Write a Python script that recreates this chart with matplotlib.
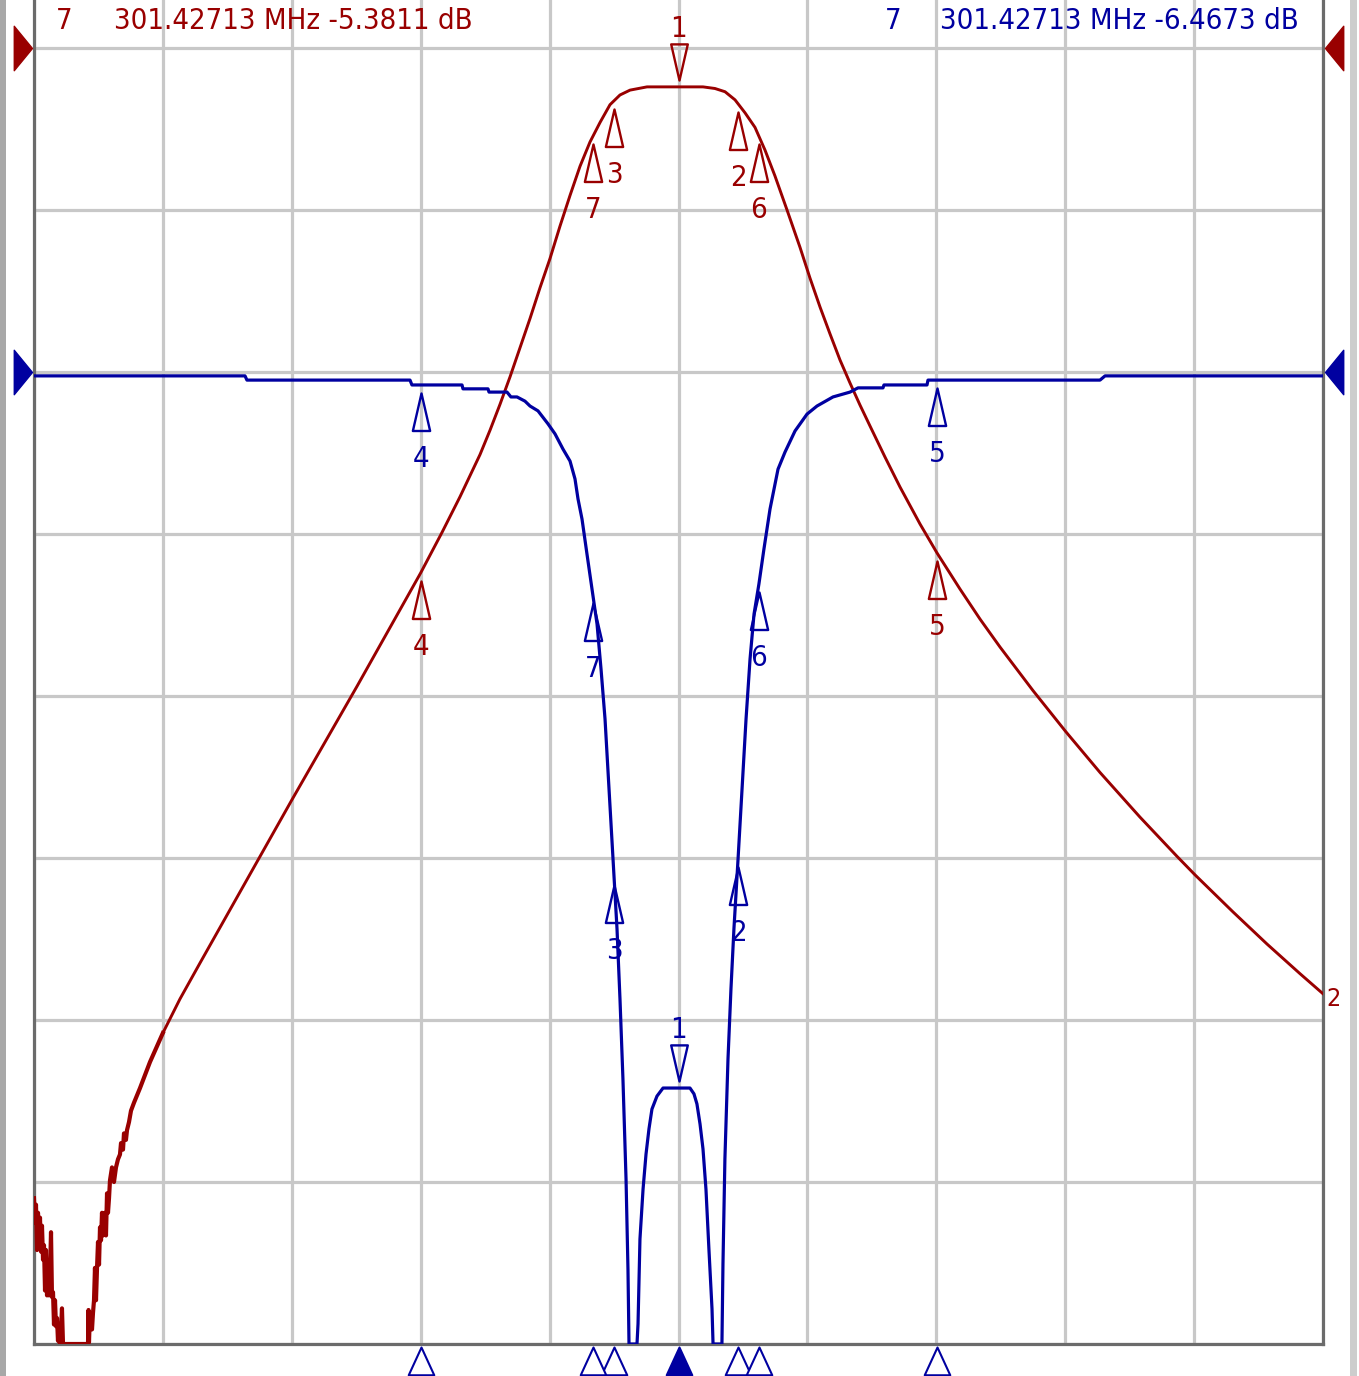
import numpy as np
import matplotlib
matplotlib.use("Agg")
import matplotlib.pyplot as plt
from matplotlib.path import Path
from matplotlib import transforms
from matplotlib import font_manager as fm
from matplotlib.patches import Rectangle

# Trace 1 (red): frequency in MHz, level in dB (ref 0 dB at top, 10 dB/div)
red_f = [300.5600, 300.5616, 300.5631, 300.5647, 300.5662, 300.5678, 300.5693, 300.5709,
         300.5724, 300.5740, 300.5755, 300.5771, 300.5786, 300.5802, 300.5817, 300.5833,
         300.5848, 300.5864, 300.5879, 300.5895, 300.5910, 300.5926, 300.5941, 300.5957,
         300.5972, 300.5988, 300.6003, 300.6019, 300.6034, 300.6050,
         300.6438, 300.6446, 300.6453, 300.6469, 300.6500, 300.6515, 300.6531, 300.6546,
         300.6562, 300.6578, 300.6593, 300.6609, 300.6624, 300.6640, 300.6655, 300.6671,
         300.6686, 300.6702, 300.6717, 300.6733, 300.6748, 300.6764, 300.6779, 300.6810,
         300.6841, 300.6872, 300.6903, 300.6934, 300.6950, 300.6981, 300.6996, 300.7027,
         300.7043, 300.7074, 300.7105, 300.7152, 300.7245, 300.7400,
         300.7600, 300.7865, 300.8176, 300.8595, 300.9603, 301.0612,
         301.1600, 301.1931, 301.2210, 301.2365, 301.2520, 301.2675, 301.2830,
         301.2986, 301.3141, 301.3296, 301.3451, 301.3606, 301.3761, 301.3917, 301.4072,
         301.4227, 301.4382, 301.4537, 301.4692, 301.4848, 301.5111, 301.5600, 301.5980,
         301.6166, 301.6322, 301.6477, 301.6632, 301.6787, 301.6942, 301.7097, 301.7284,
         301.7485, 301.7640, 301.7796, 301.7951, 301.8106, 301.8261, 301.8416, 301.8571,
         301.8804, 301.9037, 301.9347, 301.9611, 301.9968, 302.0278, 302.0589, 302.1101,
         302.1613, 302.2140, 302.2761, 302.3335, 302.3614, 302.4204, 302.4731, 302.5243,
         302.5600]
red_db = [-71.0, -72.5, -71.4, -74.2, -71.9, -73.6, -72.2, -74.3,
          -72.7, -74.8, -73.9, -76.7, -74.2, -77.0, -74.9, -77.0,
          -75.6, -73.1, -77.1, -76.8, -78.8, -77.3, -78.9, -78.4,
          -79.8, -79.0, -80.0, -79.1, -77.8, -80.0,
          -80.0, -77.9, -79.9, -78.1, -79.1, -78.1, -77.3, -75.3,
          -77.3, -75.3, -73.7, -75.1, -72.8, -73.6, -71.9, -73.3,
          -72.8, -71.9, -73.3, -70.7, -71.9, -71.0, -69.9, -69.1,
          -70.0, -69.1, -68.6, -68.3, -67.6, -68.0, -67.0, -67.4,
          -66.8, -66.3, -65.6, -65.1, -64.2, -62.59,
          -60.80, -58.70, -56.48, -53.52, -46.40, -39.40,
          -32.40, -29.90, -27.70, -26.40, -25.10, -23.60, -22.00,
          -20.30, -18.50, -16.70, -14.80, -13.00, -11.00, -9.10, -7.30,
          -5.80, -4.60, -3.50, -2.90, -2.60, -2.40, -2.40, -2.40,
          -2.50, -2.70, -3.20, -4.00, -4.90, -6.30, -7.90, -10.00,
          -12.30, -14.20, -15.99, -17.65, -19.26, -20.68, -22.04, -23.33,
          -25.25, -27.10, -29.38, -31.17, -33.40, -35.25, -36.98, -39.67,
          -42.22, -44.72, -47.48, -49.90, -51.04, -53.33, -55.31, -57.14,
          -58.38]

# Trace 2 (blue): frequency in MHz, level in dB (ref 0 dB at 6th division, 5 dB/div)
blue_f = [300.5600, 300.8874, 300.8904, 301.1434, 301.1464, 301.2241, 301.2256, 301.2644,
          301.2660, 301.2939, 301.3000, 301.3094, 301.3218, 301.3296, 301.3420, 301.3575,
          301.3684, 301.3808, 301.3917, 301.3994, 301.4041, 301.4103, 301.4180, 301.4258,
          301.4336, 301.4398, 301.4460, 301.4522, 301.4584, 301.4646, 301.4692, 301.4738,
          301.4786, 301.4816, 301.4832,
          301.4956, 301.4972, 301.5002, 301.5050, 301.5096, 301.5142, 301.5188, 301.5266,
          301.5360, 301.5778, 301.5840, 301.5886, 301.5934, 301.5980, 301.6026, 301.6072,
          301.6120, 301.6136,
          301.6274, 301.6290, 301.6320, 301.6368, 301.6414, 301.6460, 301.6524, 301.6586,
          301.6648, 301.6710, 301.6772, 301.6848, 301.6926, 301.7020, 301.7144, 301.7253,
          301.7408, 301.7594, 301.7749, 301.7997, 301.8261, 301.8385, 301.8773, 301.8788,
          301.9456, 301.9471, 302.2140, 302.2218, 302.5600]
blue_db = [-0.12, -0.12, -0.25, -0.25, -0.40, -0.40, -0.52, -0.52,
           -0.62, -0.62, -0.77, -0.77, -0.90, -1.05, -1.20, -1.60,
           -1.91, -2.38, -2.75, -3.30, -3.92, -4.54, -5.62, -6.70,
           -7.78, -9.17, -10.71, -12.87, -15.03, -17.19, -19.35, -21.82,
           -24.91, -27.69, -30.0,
           -30.0, -29.38, -26.76, -25.22, -24.14, -23.36, -22.75, -22.35,
           -22.10, -22.10, -22.28, -22.59, -23.21, -23.98, -25.22, -27.07,
           -28.92, -30.0,
           -30.0, -27.53, -24.29, -21.20, -19.04, -17.19, -15.03, -12.87,
           -10.71, -8.86, -7.47, -6.54, -5.46, -4.23, -3.00, -2.47,
           -1.82, -1.30, -1.05, -0.77, -0.62, -0.49, -0.49, -0.40,
           -0.40, -0.25, -0.25, -0.12, -0.12]

marker_ids = ["1", "2", "3", "4", "5", "6", "7"]
marker_f = [301.5600, 301.6524, 301.4600, 301.1600, 301.9610, 301.6848, 301.42713]

header_left = ("7", "301.42713 MHz -5.3811 dB")
header_right = ("7", "301.42713 MHz -6.4673 dB")

# ---------------- style ----------------
RED = "#990000"
BLUE = "#0000a0"
GRID = "#c8c8c8"
FRAME = "#6b6b6b"
W, H, DPI = 1359, 1376, 100
PT = 72.0 / DPI  # points per pixel

ttf = fm.fontManager.ttflist
names = {f.name for f in ttf}
STRETCH = "normal"
if "Liberation Sans Narrow" in names:
    FAM, HS, LS = "Liberation Sans Narrow", 28, 27
elif any(f.name == "DejaVu Sans" and str(f.stretch) == "condensed" for f in ttf):
    FAM, HS, LS, STRETCH = "DejaVu Sans", 21, 21, "condensed"
else:
    FAM, HS, LS = "DejaVu Sans Mono", 18, 19
FONT = [FAM, "DejaVu Sans"]

fig = plt.figure(figsize=(W / DPI, H / DPI), dpi=DPI)
fig.patch.set_facecolor("white")
ax = fig.add_axes([34 / W, 32 / H, (1323 - 34) / W, 1344 / H])
ax2 = ax.twinx()

f0, f1 = 300.56, 302.56
ax.set_xlim(f0, f1)
ax.set_ylim(-80, 48 / 162 * 10)
ax2.set_ylim(-30, 10 + 48 / 162 * 5)

ax.set_xticks(np.linspace(f0, f1, 11))
ax.set_yticks(np.arange(-80, 1, 10))
ax.tick_params(length=0, labelleft=False, labelbottom=False)
ax2.tick_params(length=0, labelright=False)
ax.grid(True, color=GRID, lw=2.3)
ax.set_axisbelow(True)
for name, sp in ax.spines.items():
    sp.set_color(FRAME)
    sp.set_linewidth(2.3)
ax.spines["top"].set_visible(False)
for sp in ax2.spines.values():
    sp.set_visible(False)

# traces (the noisy low-level start of the red trace is drawn a little heavier)
NOISY = 68
ax.plot(red_f[:NOISY + 1], red_db[:NOISY + 1], color=RED, lw=3.0, zorder=3)
ax.plot(red_f[NOISY:], red_db[NOISY:], color=RED, lw=2.1, zorder=3)
ax2.plot(blue_f, blue_db, color=BLUE, lw=2.3, zorder=3)

# marker shapes
UP = Path([(0, 0), (-0.23, -1), (0.23, -1), (0, 0)],
          [Path.MOVETO, Path.LINETO, Path.LINETO, Path.CLOSEPOLY])
DOWN = Path([(0, 0), (-0.23, 1), (0.23, 1), (0, 0)],
            [Path.MOVETO, Path.LINETO, Path.LINETO, Path.CLOSEPOLY])
STIM = Path([(0, 0), (-0.46, -1), (0.46, -1), (0, 0)],
            [Path.MOVETO, Path.LINETO, Path.LINETO, Path.CLOSEPOLY])
REF_L = Path([(0, 0), (-0.41, 0.5), (-0.41, -0.5), (0, 0)],
             [Path.MOVETO, Path.LINETO, Path.LINETO, Path.CLOSEPOLY])
REF_R = Path([(0, 0), (0.41, 0.5), (0.41, -0.5), (0, 0)],
             [Path.MOVETO, Path.LINETO, Path.LINETO, Path.CLOSEPOLY])


def draw_markers(axis, tr_f, tr_db, color):
    for mid, mf in zip(marker_ids, marker_f):
        y = float(np.interp(mf, tr_f, tr_db))
        if mid == "1":
            t = transforms.offset_copy(axis.transData, fig=fig, x=0, y=7, units="dots")
            axis.plot([mf], [y], marker=DOWN, ms=52, mfc="none", mec=color, mew=1.7,
                      transform=t, clip_on=False, zorder=5, ls="none")
            axis.annotate(mid, xy=(mf, y), xytext=(0, 50 * PT), textcoords="offset points",
                          ha="center", va="baseline", color=color, fontsize=LS,
                          family=FONT, fontstretch=STRETCH, annotation_clip=False)
        else:
            t = transforms.offset_copy(axis.transData, fig=fig, x=0, y=-8, units="dots")
            axis.plot([mf], [y], marker=UP, ms=54, mfc="none", mec=color, mew=1.7,
                      transform=t, clip_on=False, zorder=5, ls="none")
            axis.annotate(mid, xy=(mf, y), xytext=(0, -82 * PT), textcoords="offset points",
                          ha="center", va="baseline", color=color, fontsize=LS,
                          family=FONT, fontstretch=STRETCH, annotation_clip=False)


draw_markers(ax, red_f, red_db, RED)
draw_markers(ax2, blue_f, blue_db, BLUE)

# end-of-trace label on the red trace
ax.annotate("2", xy=(red_f[-1], red_db[-1]), xytext=(10 * PT, -12 * PT),
            textcoords="offset points", ha="center", va="baseline", color=RED,
            fontsize=LS - 3, family=FONT, fontstretch=STRETCH, annotation_clip=False)

# stimulus markers under the x axis
bt = transforms.offset_copy(transforms.blended_transform_factory(ax.transData, ax.transAxes),
                            fig=fig, x=0, y=-3, units="dots")
for mid, mf in zip(marker_ids, marker_f):
    ax.plot([mf], [0], marker=STIM, ms=40, mfc=(BLUE if mid == "1" else "white"),
            mec=BLUE, mew=1.5, transform=bt, clip_on=False, zorder=6, ls="none")

# reference level triangles
for axis, color in ((ax, RED), (ax2, BLUE)):
    tl = transforms.offset_copy(transforms.blended_transform_factory(axis.transAxes, axis.transData),
                                fig=fig, x=-2, y=0, units="dots")
    tr = transforms.offset_copy(transforms.blended_transform_factory(axis.transAxes, axis.transData),
                                fig=fig, x=2, y=0, units="dots")
    axis.plot([0], [0], marker=REF_L, ms=32, color=color, mec=color, transform=tl,
              clip_on=False, zorder=6, ls="none")
    axis.plot([1], [0], marker=REF_R, ms=32, color=color, mec=color, transform=tr,
              clip_on=False, zorder=6, ls="none")

# header readouts
yb = 1 - 29 / H
fig.text(64 / W, yb, header_left[0], color=RED, fontsize=HS, family=FONT,
         fontstretch=STRETCH, ha="center", va="baseline")
fig.text(293 / W, yb, header_left[1], color=RED, fontsize=HS, family=FONT,
         fontstretch=STRETCH, ha="center", va="baseline")
fig.text(893 / W, yb, header_right[0], color=BLUE, fontsize=HS, family=FONT,
         fontstretch=STRETCH, ha="center", va="baseline")
fig.text(1119 / W, yb, header_right[1], color=BLUE, fontsize=HS, family=FONT,
         fontstretch=STRETCH, ha="center", va="baseline")

# window edge bars
fig.patches.append(Rectangle((0, 0), 6 / W, 1, transform=fig.transFigure,
                             facecolor="#a8a8a8", edgecolor="none", zorder=0))
fig.patches.append(Rectangle((1350 / W, 0), 7 / W, 1, transform=fig.transFigure,
                             facecolor="#cdcdcd", edgecolor="none", zorder=0))

fig.savefig("out.png", dpi=DPI, facecolor="white")
